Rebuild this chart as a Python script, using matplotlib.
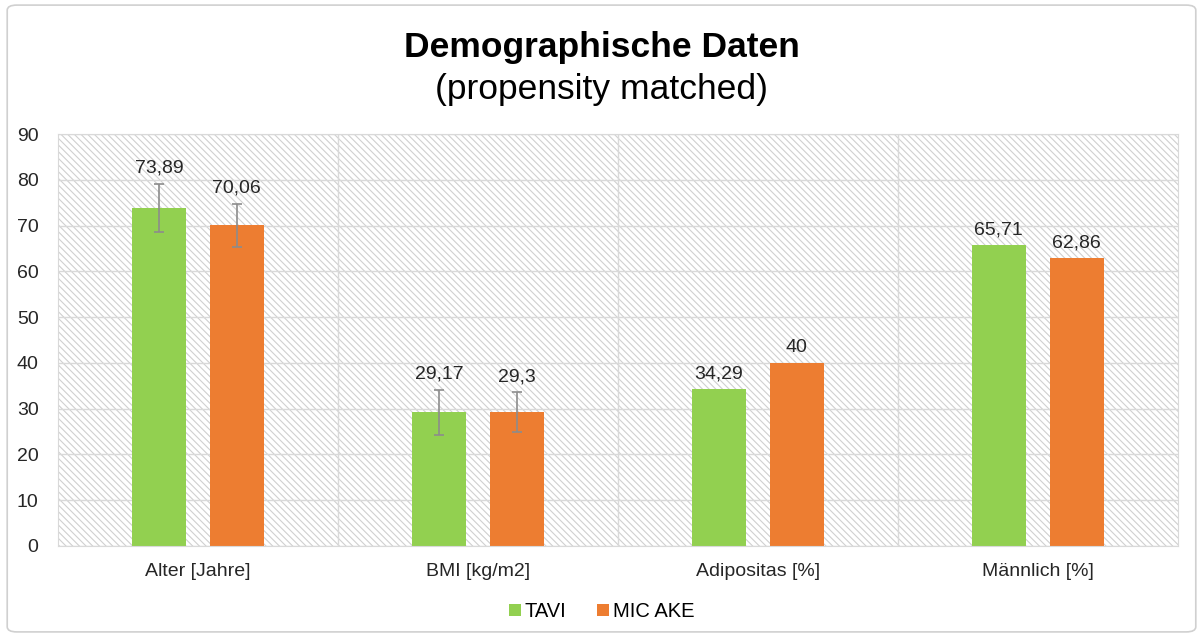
import matplotlib
matplotlib.use("Agg")
import matplotlib.pyplot as plt
import numpy as np
from matplotlib.patches import Rectangle, FancyBboxPatch

plt.rcParams['font.family'] = ['Liberation Sans', 'DejaVu Sans']

categories = ["Alter [Jahre]", "BMI [kg/m2]", "Adipositas [%]", "Männlich [%]"]
series_names = ["TAVI", "MIC AKE"]
tavi = [73.89, 29.17, 34.29, 65.71]
mic = [70.06, 29.3, 40, 62.86]
tavi_err = [5.24, 5.0, 0, 0]
mic_err = [4.7, 4.3, 0, 0]
tavi_labels = ["73,89", "29,17", "34,29", "65,71"]
mic_labels = ["70,06", "29,3", "40", "62,86"]
yticks = [0, 10, 20, 30, 40, 50, 60, 70, 80, 90]

green = "#92D050"
orange = "#ED7D31"
gridc = "#d9d9d9"

plt.rcParams['hatch.linewidth'] = 0.8

fig = plt.figure(figsize=(12.03, 6.37), dpi=100)
border = FancyBboxPatch((0.006, 0.008), 0.988, 0.984, boxstyle="round,pad=0,rounding_size=0.008",
                        transform=fig.transFigure, facecolor="white", edgecolor="#d0d0d0", lw=1.2,
                        zorder=-10)
fig.patches.append(border)

ax = fig.add_axes([0.0482, 0.1429, 0.9308, 0.6467])
ax.set_zorder(5)
ax.set_facecolor("white")
n = len(categories)
x = np.arange(n)
ax.set_xlim(-0.5, n - 0.5)
ax.set_ylim(0, 90)

bg = Rectangle((0, 0), 1, 1, transform=ax.transAxes, facecolor="white", edgecolor="#d0d0d0",
               linewidth=0, hatch="\\" * 5, zorder=0)
ax.add_patch(bg)

ax.set_yticks(yticks)
ax.yaxis.grid(True, color=gridc, lw=1.0, zorder=1)
for b in np.arange(0.5, n - 0.5, 1):
    ax.axvline(b, color=gridc, lw=1.0, zorder=1)
ax.set_axisbelow(True)

w = 0.193
off = 0.139
ecfg = dict(ecolor="#8c8c8c", elinewidth=1.2, capsize=3.5, capthick=1.2)
b1 = ax.bar(x - off, tavi, w, color=green, zorder=2, label=series_names[0])
b2 = ax.bar(x + off, mic, w, color=orange, zorder=2, label=series_names[1])
for i in range(n):
    if tavi_err[i] > 0:
        ax.errorbar(x[i] - off, tavi[i], yerr=tavi_err[i], fmt="none", zorder=3, **ecfg)
    if mic_err[i] > 0:
        ax.errorbar(x[i] + off, mic[i], yerr=mic_err[i], fmt="none", zorder=3, **ecfg)

for i in range(n):
    ax.annotate(tavi_labels[i], (x[i] - off, tavi[i] + tavi_err[i]), xytext=(0, 5),
                textcoords="offset points", ha="center", va="bottom", fontsize=14, color="#262626")
    ax.annotate(mic_labels[i], (x[i] + off, mic[i] + mic_err[i]), xytext=(0, 5),
                textcoords="offset points", ha="center", va="bottom", fontsize=14, color="#262626")

ax.set_xticks(x)
ax.set_xticklabels(categories, fontsize=14, color="#262626")
ax.tick_params(axis="y", labelsize=14, colors="#262626", length=0, pad=14)
ax.tick_params(axis="x", length=0, pad=12)
for s in ["top", "right", "left", "bottom"]:
    ax.spines[s].set_color(gridc)

fig.text(0.5, 0.926, "Demographische Daten", ha="center", va="center", fontsize=25.5,
         fontweight="bold", color="black")
fig.text(0.5, 0.859, "(propensity matched)", ha="center", va="center", fontsize=25.5, color="black")

fig.legend(handles=[b1, b2], labels=series_names, loc="center", bbox_to_anchor=(0.5, 0.04),
           ncol=2, frameon=False, fontsize=14.5, handlelength=0.6, handleheight=0.6,
           handletextpad=0.2, columnspacing=1.5)

fig.savefig("out.png", dpi=100)
